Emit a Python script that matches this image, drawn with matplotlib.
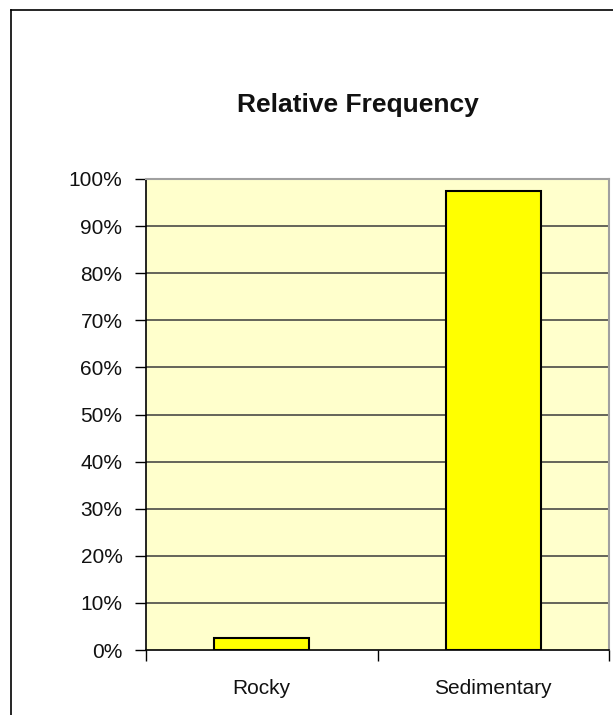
import matplotlib
matplotlib.use("Agg")
import matplotlib.pyplot as plt
from matplotlib.lines import Line2D

categories = ["Rocky", "Sedimentary"]
values = [2.6, 97.4]
yticks = [0, 10, 20, 30, 40, 50, 60, 70, 80, 90, 100]
title = "Relative Frequency"

plt.rcParams['font.family'] = ['Liberation Sans', 'DejaVu Sans']

W, H = 613, 715
fig = plt.figure(figsize=(W / 100, H / 100), dpi=100)
fig.patch.set_facecolor("white")

ax = fig.add_axes([146 / W, 1 - 650 / H, (609 - 146) / W, (650 - 179) / H])
ax.set_facecolor("#FFFFCC")

x = list(range(len(categories)))
ax.bar(x, values, width=0.41, color="#FFFF00", edgecolor="black", linewidth=1.5, zorder=3)

ax.set_xlim(-0.5, len(categories) - 0.5)
ax.set_ylim(0, 100)

ax.set_yticks(yticks)
ax.set_yticklabels([f"{v}%" for v in yticks], fontsize=15, color="#111111")
ax.tick_params(axis="y", direction="out", length=8, width=1, pad=9, color="black")

# gridlines
for v in yticks[1:-1]:
    ax.axhline(v, color="#3a3a3a", linewidth=1.1, zorder=1)

# x ticks at category boundaries, labels at centers
ax.set_xticks([-0.5, 0.5, 1.5])
ax.set_xticklabels([])
ax.tick_params(axis="x", which="major", direction="out", length=8, width=1, color="black")
ax.set_xticks(x, minor=True)
ax.set_xticklabels(categories, minor=True, fontsize=15, color="#111111")
ax.tick_params(axis="x", which="minor", length=0, pad=21)

for side in ["left", "bottom"]:
    ax.spines[side].set_color("black")
    ax.spines[side].set_linewidth(1.2)
for side in ["top", "right"]:
    ax.spines[side].set_color("#A0A0A0")
    ax.spines[side].set_linewidth(1.5)

fig.text(358 / W, 1 - 105 / H, title, ha="center", va="center",
         fontsize=19, fontweight="bold", color="#111111")

# chart area border (left and top visible)
fig.add_artist(Line2D([11 / W, 11 / W], [0, 1 - 10 / H], color="black", linewidth=1.2))
fig.add_artist(Line2D([11 / W, 1], [1 - 10 / H, 1 - 10 / H], color="black", linewidth=1.2))

fig.savefig("out.png", dpi=100)
